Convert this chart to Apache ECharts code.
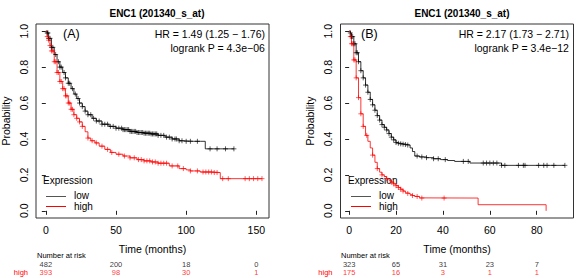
<!DOCTYPE html>
<html>
<head>
<meta charset="utf-8">
<title>ENC1 (201340_s_at)</title>
<script src="https://cdn.jsdelivr.net/npm/echarts@6/dist/echarts.min.js"></script>
</head>
<body style="margin:0;background:#fff">
<div id="main" style="width:576px;height:278px;"></div>
<script>
// panel A (left) survival curves: time in months, survival probability
var aLowT  = [0, 1, 2, 4, 6, 8, 10, 12, 14, 16, 18, 20, 22, 24, 26, 28, 30, 33, 36, 40, 45, 50, 55, 60, 65, 70, 75, 80, 85, 90, 95, 98, 105, 110, 113.6, 120, 134];
var aLowS  = [1.0, 0.99, 0.96, 0.91, 0.87, 0.83, 0.80, 0.77, 0.74, 0.71, 0.68, 0.65, 0.625, 0.60, 0.58, 0.555, 0.535, 0.515, 0.50, 0.482, 0.47, 0.46, 0.452, 0.442, 0.436, 0.432, 0.428, 0.42, 0.41, 0.40, 0.39, 0.387, 0.387, 0.387, 0.345, 0.345, 0.345];
var aHighT = [0, 1, 2, 3, 4, 6, 8, 10, 12, 14, 16, 18, 20, 22, 24, 26, 28, 30, 32, 35, 38, 42, 46, 50, 55, 60, 65, 70, 75, 80, 88, 95, 100, 103, 110, 120, 124.3, 140, 154];
var aHighS = [1.0, 0.97, 0.95, 0.92, 0.89, 0.83, 0.77, 0.72, 0.68, 0.64, 0.60, 0.565, 0.535, 0.515, 0.495, 0.47, 0.44, 0.405, 0.39, 0.378, 0.36, 0.342, 0.325, 0.315, 0.305, 0.295, 0.285, 0.278, 0.272, 0.265, 0.25, 0.235, 0.228, 0.222, 0.216, 0.213, 0.179, 0.179, 0.179];
// censoring times (+ marks)
var aLowCens  = [1, 1.5, 2, 3, 4, 5, 7, 9, 10, 11, 13, 14, 16, 17, 19, 21, 23, 24, 26, 28, 30, 32, 34, 36, 38, 40, 42, 44, 46, 48, 50, 52, 54, 55, 56, 57, 58, 59, 60, 61, 62, 63, 64, 65, 66, 67, 68, 69, 70, 71, 72, 73, 74, 75, 76, 77, 78, 79, 80, 82, 84, 86, 88, 90, 92, 93, 95, 97, 100, 103, 108, 117, 122, 128, 134];
var aHighCens = [1, 2, 3, 4, 5, 6, 7, 8, 9, 10, 11, 12, 13, 14, 15, 16, 17, 18, 19, 20, 22, 24, 26, 30, 33, 36, 40, 44, 47, 52, 56, 60, 63, 66, 68, 70, 72, 74, 76, 78, 80, 82, 84, 86, 90, 94, 98, 103, 108, 112, 114, 116, 118, 120, 122, 126, 130, 142, 145, 148, 151, 154];

// panel B (right)
var bLowT  = [0, 0.5, 1, 2, 3, 4, 5, 6, 7, 8, 9, 10, 11, 12, 13, 14, 15, 16, 17, 18, 19, 20, 21, 22, 23, 24, 25, 26, 27, 28, 30, 33, 36, 39, 42, 45, 50, 51.5, 60, 65, 92];
var bLowS  = [1.0, 0.99, 0.97, 0.93, 0.88, 0.83, 0.78, 0.74, 0.70, 0.66, 0.62, 0.59, 0.56, 0.53, 0.505, 0.48, 0.465, 0.45, 0.43, 0.41, 0.395, 0.38, 0.376, 0.373, 0.371, 0.369, 0.366, 0.35, 0.33, 0.305, 0.30, 0.296, 0.29, 0.285, 0.28, 0.275, 0.275, 0.266, 0.266, 0.253, 0.253];
var bHighT = [0, 0.5, 1, 2, 3, 4, 5, 6, 7, 8, 9, 10, 11, 12, 13, 14, 15, 16, 17, 18, 19, 20, 21, 22, 23, 24, 25, 26, 27, 28, 30, 31, 55, 84];
var bHighS = [1.0, 0.97, 0.93, 0.84, 0.74, 0.63, 0.54, 0.47, 0.42, 0.387, 0.35, 0.31, 0.27, 0.235, 0.215, 0.20, 0.19, 0.18, 0.17, 0.16, 0.15, 0.14, 0.13, 0.12, 0.11, 0.10, 0.097, 0.09, 0.085, 0.08, 0.072, 0.071, 0.034, 0];
var bLowCens  = [0.5, 1, 1.5, 2, 2.5, 3, 3.5, 4, 5, 6, 7, 8, 9, 10, 11, 12, 13, 14, 15, 16, 17, 18, 19, 20, 21, 22, 23, 24, 25, 29, 31, 33, 36, 38, 41, 48.7, 50.8, 57.2, 58.6, 60, 61.5, 63, 65, 66.4, 72.2, 74.3, 75, 80.8, 83, 84.4, 87.3, 92];
var bHighCens = [0.5, 1, 1.5, 2, 2.5, 3, 4, 5, 6, 7.5, 10, 12, 14, 16, 18, 19, 20, 21, 22, 23, 25, 27, 29, 31, 40.5];

// number at risk
var aRiskT = [0, 50, 100, 150];
var aRiskLow = [482, 200, 18, 0];
var aRiskHigh = [393, 98, 30, 1];
var bRiskT = [0, 20, 40, 60, 80];
var bRiskLow = [323, 65, 31, 23, 7];
var bRiskHigh = [175, 16, 3, 1, 1];

var aTicks = [0, 50, 100, 150];
var bTicks = [0, 20, 40, 60, 80];
var yTicks = [0, 0.2, 0.4, 0.6, 0.8, 1.0];

var FONT = 'Liberation Sans';
var RED = '#ff0000';
var BLACK = '#000000';

function pairs(t, s) {
    return t.map(function (v, i) { return [v, s[i]]; });
}
function survAt(t, s, x) {
    var v = s[0];
    for (var i = 0; i < t.length; i++) {
        if (t[i] <= x) v = s[i];
    }
    return v;
}
function cens(times, t, s) {
    return times.map(function (x) { return [x, survAt(t, s, x)]; });
}
function riskData(times, vals, row) {
    return times.map(function (x, i) { return [x, row, vals[i]]; });
}

var plus = 'path://M5,0L5,10M0,5L10,5';

function plotAxes(gi, xmin, xmax, ticks) {
    var x = {
        gridIndex: gi, type: 'value', min: xmin, max: xmax,
        axisLine: {show: false}, splitLine: {show: false},
        axisTick: {show: true, length: 4, customValues: ticks, lineStyle: {color: '#222'}},
        axisLabel: {customValues: ticks, margin: 6, fontSize: 10.5, color: '#000', fontFamily: FONT},
        name: 'Time (months)', nameLocation: 'middle', nameGap: 25,
        nameTextStyle: {fontSize: 10.5, color: '#000', fontFamily: FONT}
    };
    // y labels are added as rotated text after setOption
    var y = {
        gridIndex: gi, type: 'value', min: -0.04, max: 1.04,
        axisLine: {show: false}, splitLine: {show: false},
        axisTick: {show: true, length: 4, customValues: yTicks, lineStyle: {color: '#222'}},
        axisLabel: {show: false}
    };
    return [x, y];
}
function riskAxes(gi, xmin, xmax) {
    var x = {gridIndex: gi, type: 'value', min: xmin, max: xmax, show: false};
    var y = {
        gridIndex: gi, type: 'category', data: ['high', 'low'],
        axisLine: {show: false}, axisTick: {show: false}, splitLine: {show: false},
        axisLabel: {margin: 8, fontSize: 7.5, fontFamily: FONT,
            formatter: function (v) { return '{' + v + '|' + v + '}'; },
            rich: {low: {color: BLACK, fontSize: 7.5, fontFamily: FONT}, high: {color: RED, fontSize: 7.5, fontFamily: FONT}}}
    };
    return [x, y];
}

var axA = plotAxes(0, -7, 159, aTicks);
var axB = plotAxes(1, -3.68, 95.68, bTicks);
var rA = riskAxes(2, -7, 159);
var rB = riskAxes(3, -3.68, 95.68);

function curve(name, xi, data, color) {
    return {name: name, type: 'line', xAxisIndex: xi, yAxisIndex: xi, data: data, step: 'end',
        showSymbol: false, symbol: 'none', lineStyle: {color: color, width: 0.8}, z: 3, silent: true};
}
function marks(xi, data, color) {
    return {type: 'scatter', xAxisIndex: xi, yAxisIndex: xi, data: data, symbol: plus, symbolSize: 5,
        itemStyle: {color: 'transparent', borderColor: color, borderWidth: 0.8}, z: 4, silent: true};
}
function risk(xi, data, color) {
    return {type: 'scatter', xAxisIndex: xi, yAxisIndex: xi, data: data, symbolSize: 0, silent: true,
        label: {show: true, position: 'inside', color: color, fontSize: 7.5, fontFamily: FONT,
            formatter: function (p) { return p.value[2]; }}};
}

function legendGraphic(x0) {
    var t = {fontFamily: FONT, fill: '#000', fontSize: 10};
    return [
        {type: 'text', left: x0, top: 175, style: Object.assign({}, t, {text: 'Expression'})},
        {type: 'line', shape: {x1: x0 + 3, y1: 196.5, x2: x0 + 23, y2: 196.5}, style: {stroke: '#555', lineWidth: 1}},
        {type: 'text', left: x0 + 31, top: 190, style: Object.assign({}, t, {text: 'low'})},
        {type: 'line', shape: {x1: x0 + 3, y1: 206.5, x2: x0 + 23, y2: 206.5}, style: {stroke: RED, lineWidth: 1}},
        {type: 'text', left: x0 + 31, top: 201, style: Object.assign({}, t, {text: 'high'})}
    ];
}
function statGraphic(xr, hr, p) {
    var t = {fontFamily: FONT, fill: '#000', fontSize: 10.5};
    return [
        {type: 'text', right: 576 - xr, top: 28, style: Object.assign({}, t, {text: hr})},
        {type: 'text', right: 576 - xr, top: 42, style: Object.assign({}, t, {text: p})}
    ];
}
function vText(x, y, text) {
    return {type: 'text', x: x, y: y, rotation: Math.PI / 2,
        style: {text: text, fontSize: 10.5, fontFamily: FONT, fill: '#000', align: 'center', verticalAlign: 'middle'}};
}

// svg renderer: the canvas one dropped some rotated labels
var chart = echarts.init(document.getElementById('main'), null, {renderer: 'svg'});
var graphics = [
    {type: 'text', left: 63, top: 27, style: {text: '(A)', fontSize: 12.5, fontFamily: FONT, fill: '#000'}},
    {type: 'text', left: 361, top: 27, style: {text: '(B)', fontSize: 12.5, fontFamily: FONT, fill: '#000'}},
    {type: 'text', left: 37, top: 251, style: {text: 'Number at risk', fontSize: 7.5, fontFamily: FONT, fill: '#000'}},
    {type: 'text', left: 341, top: 251, style: {text: 'Number at risk', fontSize: 7.5, fontFamily: FONT, fill: '#000'}},
    vText(6, 121, 'Probability'),
    vText(310, 121, 'Probability')
].concat(
    statGraphic(265, 'HR = 1.49 (1.25 \u2212 1.76)', 'logrank P = 4.3e\u221206'),
    statGraphic(569, 'HR = 2.17 (1.73 \u2212 2.71)', 'logrank P = 3.4e\u221212'),
    legendGraphic(43),
    legendGraphic(348)
);

var option = {
    animation: false,
    backgroundColor: '#fff',
    title: [
        {text: 'ENC1 (201340_s_at)', left: 152, top: 3, textAlign: 'center',
            textStyle: {fontSize: 10, fontWeight: 'bold', fontFamily: FONT, color: '#000'}},
        {text: 'ENC1 (201340_s_at)', left: 457, top: 3, textAlign: 'center',
            textStyle: {fontSize: 10, fontWeight: 'bold', fontFamily: FONT, color: '#000'}}
    ],
    grid: [
        {left: 36, top: 24, width: 233, height: 194, show: true, borderColor: '#333', borderWidth: 1},
        {left: 340.5, top: 24, width: 233, height: 194, show: true, borderColor: '#333', borderWidth: 1},
        {left: 36, top: 260, width: 233, height: 17},
        {left: 340.5, top: 260, width: 233, height: 17}
    ],
    xAxis: [axA[0], axB[0], rA[0], rB[0]],
    yAxis: [axA[1], axB[1], rA[1], rB[1]],
    graphic: graphics,
    series: [
        curve('low', 0, pairs(aLowT, aLowS), BLACK),
        curve('high', 0, pairs(aHighT, aHighS), RED),
        marks(0, cens(aLowCens, aLowT, aLowS), BLACK),
        marks(0, cens(aHighCens, aHighT, aHighS), RED),
        curve('low', 1, pairs(bLowT, bLowS), BLACK),
        curve('high', 1, pairs(bHighT, bHighS), RED),
        marks(1, cens(bLowCens, bLowT, bLowS), BLACK),
        marks(1, cens(bHighCens, bHighT, bHighS), RED),
        risk(2, riskData(aRiskT, aRiskLow, 'low'), BLACK),
        risk(2, riskData(aRiskT, aRiskHigh, 'high'), RED),
        risk(3, riskData(bRiskT, bRiskLow, 'low'), BLACK),
        risk(3, riskData(bRiskT, bRiskHigh, 'high'), RED)
    ]
};
chart.setOption(option);

// y tick labels, placed through the y scale of each panel
var yLabels = [];
[[0, -7], [1, -3.68]].forEach(function (g) {
    yTicks.forEach(function (v) {
        var p = chart.convertToPixel({xAxisIndex: g[0], yAxisIndex: g[0]}, [g[1], v]);
        yLabels.push(vText(p[0] - 12.5, p[1], v.toFixed(1)));
    });
});
chart.setOption({graphic: graphics.concat(yLabels)});
</script>
</body>
</html>
